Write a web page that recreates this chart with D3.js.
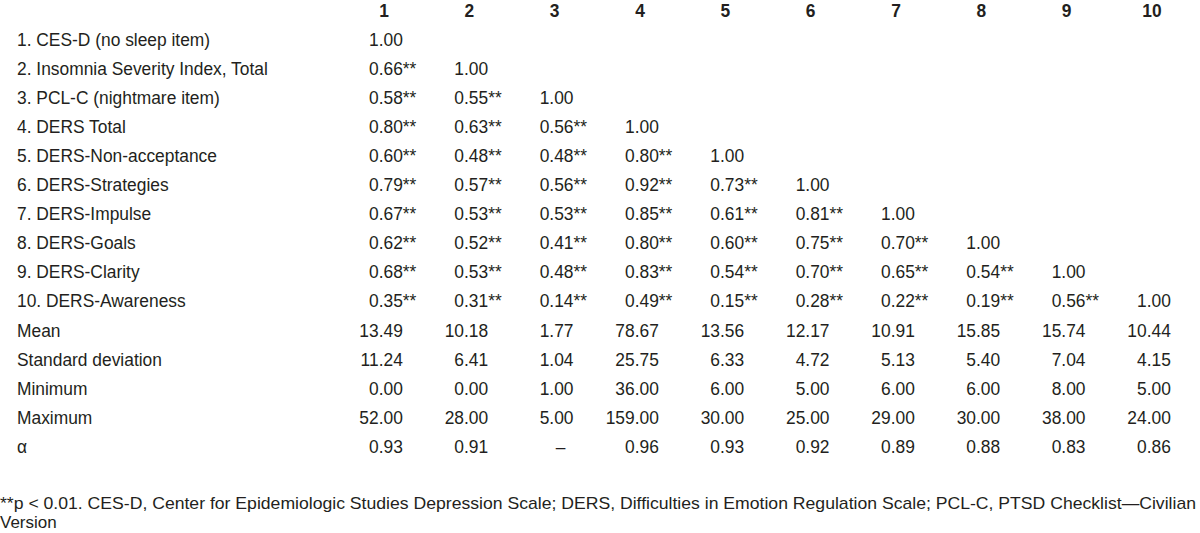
<!DOCTYPE html>
<html>
<head>
<meta charset="utf-8">
<script src="https://cdn.jsdelivr.net/npm/d3@7"></script>
<style>
  html, body { margin: 0; padding: 0; background: #fff; }
  svg text { font-family: "Liberation Sans", Arial, sans-serif; fill: #231f20; }
</style>
</head>
<body>
<svg id="chart" width="1200" height="533"></svg>
<script>
// ---- data ----
const colLabels = ["1", "2", "3", "4", "5", "6", "7", "8", "9", "10"];
const varLabels = [
  "1. CES-D (no sleep item)",
  "2. Insomnia Severity Index, Total",
  "3. PCL-C (nightmare item)",
  "4. DERS Total",
  "5. DERS-Non-acceptance",
  "6. DERS-Strategies",
  "7. DERS-Impulse",
  "8. DERS-Goals",
  "9. DERS-Clarity",
  "10. DERS-Awareness"
];
// lower-triangular correlation matrix (row i has i+1 entries)
const corrRows = [
  [1.00],
  [0.66, 1.00],
  [0.58, 0.55, 1.00],
  [0.80, 0.63, 0.56, 1.00],
  [0.60, 0.48, 0.48, 0.80, 1.00],
  [0.79, 0.57, 0.56, 0.92, 0.73, 1.00],
  [0.67, 0.53, 0.53, 0.85, 0.61, 0.81, 1.00],
  [0.62, 0.52, 0.41, 0.80, 0.60, 0.75, 0.70, 1.00],
  [0.68, 0.53, 0.48, 0.83, 0.54, 0.70, 0.65, 0.54, 1.00],
  [0.35, 0.31, 0.14, 0.49, 0.15, 0.28, 0.22, 0.19, 0.56, 1.00]
];
const sigMark = "**";
const statLabels = ["Mean", "Standard deviation", "Minimum", "Maximum", "\u03b1"];
const means  = [13.49, 10.18, 1.77, 78.67, 13.56, 12.17, 10.91, 15.85, 15.74, 10.44];
const sds    = [11.24, 6.41, 1.04, 25.75, 6.33, 4.72, 5.13, 5.40, 7.04, 4.15];
const mins   = [0.00, 0.00, 1.00, 36.00, 6.00, 5.00, 6.00, 6.00, 8.00, 5.00];
const maxs   = [52.00, 28.00, 5.00, 159.00, 30.00, 25.00, 29.00, 30.00, 38.00, 24.00];
const alphas = [0.93, 0.91, null, 0.96, 0.93, 0.92, 0.89, 0.88, 0.83, 0.86];
const footnoteLines = [
  "**p < 0.01. CES-D, Center for Epidemiologic Studies Depression Scale; DERS, Difficulties in Emotion Regulation Scale; PCL-C, PTSD Checklist\u2014Civilian",
  "Version"
];

// ---- layout ----
const svg = d3.select("#chart");
const FS = 18.5;
const SX = 0.94;          // slight horizontal condensing, like the source typeface
const allRows = varLabels.concat(statLabels);
const x = d3.scalePoint().domain(colLabels).range([369, 1137]);
const y = d3.scalePoint().domain(d3.range(allRows.length)).range([45.5, 453]); // baselines
const numW = 33.8; // width of a "0.00" number, used for decimal alignment
const fmt = d3.format(".2f");
const place = (px, py) => `translate(${px},${py}) scale(${SX},1)`;

// header
svg.append("g").selectAll("text").data(colLabels).join("text")
  .attr("transform", d => place(x(d) + 15, 17))
  .attr("text-anchor", "middle")
  .attr("font-size", FS)
  .attr("font-weight", "bold")
  .text(d => d);

// row labels
svg.append("g").selectAll("text").data(allRows).join("text")
  .attr("transform", (d, i) => place(17, y(i)))
  .attr("font-size", FS)
  .text(d => d);

// correlations
const corrCells = [];
corrRows.forEach((row, i) => row.forEach((v, j) => corrCells.push({ i, j, v })));
svg.append("g").selectAll("text").data(corrCells).join("text")
  .attr("transform", d => place(x(colLabels[d.j]), y(d.i)))
  .attr("font-size", FS)
  .text(d => fmt(d.v) + (d.i === d.j ? "" : sigMark));

// descriptive statistics
const statSeries = [means, sds, mins, maxs, alphas];
const statCells = [];
statSeries.forEach((arr, k) => arr.forEach((v, j) => statCells.push({ r: varLabels.length + k, j, v })));
svg.append("g").selectAll("text").data(statCells).join("text")
  .attr("transform", d => place(d.v === null ? x(colLabels[d.j]) + 21 : x(colLabels[d.j]) + numW, y(d.r)))
  .attr("text-anchor", d => d.v === null ? "middle" : "end")
  .attr("font-size", FS)
  .text(d => d.v === null ? "\u2013" : fmt(d.v));

// footnote
svg.append("g").selectAll("text").data(footnoteLines).join("text")
  .attr("x", 0)
  .attr("y", (d, i) => 509 + i * 19)
  .attr("font-size", 17)
  .attr("textLength", (d, i) => i === 0 ? 1196 : null)
  .attr("lengthAdjust", "spacingAndGlyphs")
  .text(d => d);
</script>
</body>
</html>
